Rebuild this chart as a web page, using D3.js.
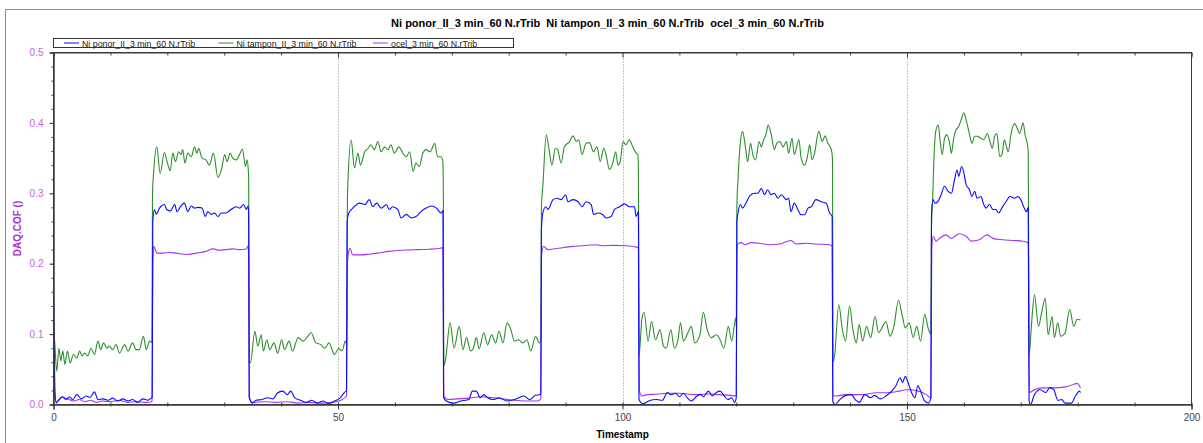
<!DOCTYPE html>
<html>
<head>
<meta charset="utf-8">
<script src="https://cdn.jsdelivr.net/npm/d3@7"></script>
<style>
  body { margin: 0; background: #fff; }
  svg { display: block; font-family: "Liberation Sans", Arial, sans-serif; }
</style>
</head>
<body>
<svg id="cofChart" width="1203" height="443"></svg>
<script>
// ---- Data
const titleText = "Ni ponor_II_3 min_60 N.rTrib  Ni tampon_II_3 min_60 N.rTrib  ocel_3 min_60 N.rTrib";
const seriesNames = ["Ni ponor_II_3 min_60 N.rTrib", "Ni tampon_II_3 min_60 N.rTrib", "ocel_3 min_60 N.rTrib"];
const xLabel = "Timestamp";
const yLabel = "DAQ.COF ()";
const xTicks = [0, 50, 100, 150, 200];
const yTicks = [0, 0.1, 0.2, 0.3, 0.4, 0.5];
const gridLines = [50, 100, 150];

// [timestamp, COF]
const ponor = [
  [0,0.166],[0.23,0.028],[0.47,0.002],[1.05,0.008],[1.6,0.011],[2.2,0.007],[2.8,0.011],[3.4,0.007],[4.1,0.014],[4.9,0.008],[5.7,0.012],[6.4,0.01],[7.2,0.018],[7.8,0.007],[8.7,0.008],[9.6,0.006],[10.4,0.009],[11.3,0.005],[12.2,0.008],[13.1,0.005],[13.9,0.007],[14.8,0.003],[15.7,0.008],[16.6,0.006],[17.1,0.009],[17.35,0.01],
  [17.45,0.26],[17.75,0.277],[18.04,0.27],[18.63,0.279],[19.5,0.284],[19.9,0.277],[20.56,0.275],[21.3,0.284],[21.7,0.274],[22.4,0.282],[23.0,0.286],[23.6,0.274],[24.2,0.282],[24.8,0.279],[25.4,0.28],[26.1,0.279],[26.7,0.267],[27.1,0.274],[27.7,0.27],[28.3,0.272],[28.9,0.267],[29.5,0.272],[30.3,0.272],[31.2,0.277],[32.1,0.281],[32.7,0.279],[33.4,0.284],[33.9,0.277],[34.2,0.282],[34.3,0.27],
  [34.4,0.01],[34.95,0.002],[35.6,0.006],[36.6,0.007],[37.6,0.0095],[38.6,0.008],[39.3,0.016],[40.3,0.019],[41.1,0.014],[41.7,0.019],[42.4,0.0095],[43.4,0.006],[44.4,0.003],[45.4,0.006],[46.4,0.002],[47.4,0.005],[48.4,0.001],[49.4,0.005],[50.4,0.0095],[51.1,0.017],[51.5,0.02],
  [51.6,0.26],[51.9,0.272],[52.6,0.279],[53.8,0.286],[54.7,0.284],[55.5,0.291],[56.1,0.281],[56.8,0.286],[57.6,0.279],[58.5,0.284],[59.0,0.277],[59.6,0.281],[60.5,0.277],[61.1,0.265],[62.0,0.27],[62.9,0.265],[63.7,0.267],[64.6,0.274],[65.5,0.279],[66.4,0.282],[67.3,0.279],[68.1,0.272],[68.45,0.275],
  [68.55,0.01],[69.05,0.005],[70.3,0.002],[71.6,0.005],[73.0,0.007],[73.6,0.019],[74.3,0.019],[75.0,0.0095],[75.6,0.014],[76.3,0.0095],[77.3,0.007],[78.3,0.0095],[79.7,0.005],[81.0,0.007],[82.7,0.012],[83.7,0.007],[84.7,0.013],[85.4,0.014],[85.65,0.015],
  [85.75,0.25],[86.0,0.272],[86.5,0.281],[86.9,0.277],[87.8,0.291],[88.5,0.293],[89.2,0.291],[90.0,0.298],[90.4,0.288],[91.3,0.291],[92.2,0.288],[92.9,0.281],[93.6,0.288],[94.5,0.284],[94.9,0.27],[95.7,0.272],[96.5,0.27],[97.1,0.265],[98.0,0.267],[98.6,0.277],[99.5,0.281],[100.35,0.285],[101.2,0.281],[102.1,0.281],[102.4,0.267],[102.8,0.274],
  [102.9,0.007],[103.6,0.001],[104.6,0.005],[106.0,0.007],[107.0,0.006],[107.9,0.017],[108.5,0.014],[109.35,0.016],[110.0,0.011],[110.7,0.016],[111.4,0.0095],[112.1,0.005],[113.1,0.012],[113.8,0.014],[114.2,0.011],[115.1,0.019],[115.8,0.012],[116.5,0.017],[117.15,0.019],[117.8,0.013],[118.5,0.007],[119.2,0.0095],[119.7,0.003],[120.0,0.01],
  [120.1,0.26],[120.3,0.272],[120.7,0.284],[121.1,0.279],[121.7,0.286],[122.3,0.2955],[123.2,0.3],[123.8,0.3],[124.4,0.307],[124.95,0.298],[125.5,0.305],[126.1,0.298],[126.7,0.3],[127.3,0.293],[127.9,0.298],[128.8,0.291],[129.2,0.293],[129.6,0.274],[130.2,0.286],[130.8,0.277],[131.4,0.2695],[132.0,0.2695],[132.6,0.279],[133.2,0.281],[134.0,0.291],[134.9,0.288],[135.8,0.286],[136.4,0.272],[136.85,0.267],
  [136.95,0.005],[137.3,0.0],[138.2,0.007],[139.2,0.013],[140.2,0.014],[140.9,0.007],[141.6,0.003],[142.6,0.014],[143.6,0.0095],[144.3,0.013],[145.3,0.008],[146.3,0.012],[147.3,0.019],[148.0,0.026],[148.8,0.038],[149.2,0.031],[149.7,0.04],[150.0,0.0355],[150.7,0.019],[151.4,0.0095],[151.9,0.027],[152.4,0.019],[153.1,0.005],[153.8,0.002],[154.2,0.01],
  [154.3,0.27],[154.6,0.291],[154.9,0.286],[155.4,0.288],[156.0,0.298],[156.6,0.31],[157.2,0.303],[157.8,0.3],[158.3,0.317],[158.8,0.333],[159.1,0.324],[159.6,0.338],[160.0,0.329],[160.4,0.312],[161.0,0.305],[161.4,0.2955],[161.9,0.303],[162.3,0.293],[163.0,0.2955],[163.4,0.286],[163.9,0.279],[164.5,0.284],[165.1,0.277],[165.6,0.277],[166.1,0.272],[166.8,0.281],[167.4,0.288],[168.1,0.2955],[168.9,0.293],[169.5,0.2955],[170.0,0.291],[170.6,0.279],[171.0,0.274],[171.3,0.28],
  [171.45,0.005],[171.7,0.0],[172.4,0.014],[173.4,0.021],[174.4,0.017],[175.1,0.024],[175.8,0.021],[176.5,0.006],[177.2,0.007],[177.8,0.002],[178.9,0.002],[179.6,0.012],[180.3,0.019],[180.5,0.017]
];

const tampon = [
  [0,0.09],[0.06,0.102],[0.58,0.047],[0.94,0.08],[1.29,0.062],[1.64,0.076],[2.0,0.057],[2.46,0.076],[2.93,0.059],[3.5,0.071],[4.1,0.066],[4.6,0.076],[5.0,0.069],[5.5,0.073],[6.0,0.069],[6.6,0.08],[7.2,0.071],[7.8,0.09],[8.3,0.078],[8.8,0.0875],[9.4,0.08],[9.8,0.083],[10.4,0.078],[11.0,0.085],[11.6,0.073],[12.5,0.085],[13.1,0.076],[13.9,0.0875],[14.5,0.078],[15.1,0.078],[15.8,0.097],[16.3,0.078],[16.9,0.09],[17.3,0.088],
  [17.4,0.3],[17.6,0.33],[18.16,0.366],[18.75,0.328],[19.5,0.358],[19.97,0.345],[20.5,0.332],[20.97,0.357],[21.44,0.345],[22.0,0.359],[22.4,0.355],[22.7,0.362],[23.1,0.343],[23.6,0.357],[24.2,0.352],[24.8,0.366],[25.2,0.357],[25.5,0.364],[26.1,0.35],[26.8,0.3475],[27.4,0.34],[28.1,0.357],[28.9,0.323],[29.5,0.333],[30.1,0.355],[30.5,0.345],[31.05,0.357],[31.5,0.35],[32.1,0.3475],[32.7,0.355],[33.2,0.363],[33.75,0.338],[34.0,0.3475],[34.3,0.324],
  [34.4,0.06],[34.6,0.059],[35.4,0.104],[35.9,0.083],[36.5,0.099],[36.9,0.076],[37.5,0.092],[38.0,0.078],[38.75,0.0875],[39.4,0.073],[40.1,0.092],[40.6,0.078],[41.4,0.09],[42.0,0.076],[43.0,0.095],[43.9,0.09],[44.7,0.097],[45.3,0.102],[46.1,0.0875],[47.0,0.085],[47.7,0.08],[48.4,0.0875],[49.4,0.071],[50.1,0.08],[50.7,0.076],[51.3,0.09],[51.55,0.085],
  [51.65,0.29],[51.73,0.312],[52.3,0.376],[52.9,0.336],[53.5,0.357],[53.95,0.34],[54.7,0.359],[55.3,0.364],[55.8,0.369],[56.4,0.362],[57.0,0.3735],[57.6,0.359],[58.2,0.366],[58.8,0.362],[59.3,0.369],[59.9,0.357],[60.7,0.366],[61.4,0.357],[62.0,0.352],[62.6,0.359],[63.2,0.331],[63.7,0.343],[64.3,0.338],[64.9,0.357],[65.5,0.362],[66.2,0.359],[67.0,0.371],[67.5,0.352],[68.1,0.352],[68.4,0.3475],[68.5,0.32],
  [68.6,0.055],[68.9,0.064],[69.7,0.116],[70.4,0.08],[71.3,0.111],[71.95,0.078],[72.6,0.095],[73.3,0.076],[73.8,0.08],[74.3,0.095],[74.8,0.079],[75.6,0.102],[76.3,0.085],[77.0,0.099],[77.7,0.0875],[78.3,0.104],[79.0,0.0875],[79.7,0.116],[80.4,0.106],[81.0,0.09],[81.7,0.092],[82.5,0.0875],[83.2,0.092],[83.9,0.076],[84.7,0.097],[85.4,0.0875],[85.65,0.09],
  [85.75,0.28],[86.0,0.31],[86.6,0.383],[87.1,0.362],[87.6,0.34],[88.2,0.364],[88.6,0.362],[89.2,0.343],[89.8,0.366],[90.7,0.3735],[91.3,0.3815],[91.9,0.3735],[92.3,0.376],[92.9,0.355],[93.6,0.371],[94.2,0.372],[94.9,0.359],[95.5,0.366],[96.1,0.345],[96.7,0.364],[97.1,0.355],[97.7,0.334],[98.3,0.343],[98.8,0.359],[99.2,0.34],[99.6,0.345],[100.1,0.3735],[100.6,0.369],[101.2,0.376],[101.8,0.366],[102.4,0.357],[102.7,0.355],[102.8,0.33],
  [102.9,0.069],[103.4,0.121],[103.8,0.131],[104.5,0.09],[105.1,0.118],[105.8,0.092],[106.6,0.106],[107.2,0.083],[107.7,0.08],[108.5,0.106],[109.1,0.08],[109.7,0.09],[110.2,0.116],[110.7,0.09],[111.5,0.102],[112.1,0.111],[112.7,0.0875],[113.6,0.099],[114.2,0.131],[114.9,0.106],[115.6,0.095],[116.5,0.099],[117.15,0.092],[117.8,0.08],[118.6,0.111],[119.2,0.09],[119.9,0.123],[120.0,0.11],
  [120.1,0.28],[120.3,0.319],[120.7,0.371],[121.1,0.388],[121.6,0.366],[122.0,0.345],[122.5,0.371],[122.9,0.355],[123.4,0.3475],[124.0,0.3735],[124.4,0.366],[124.8,0.376],[125.2,0.383],[125.6,0.397],[126.1,0.385],[126.7,0.362],[127.1,0.371],[127.7,0.3735],[128.2,0.366],[128.8,0.3735],[129.2,0.357],[129.8,0.378],[130.2,0.355],[131.0,0.376],[131.4,0.35],[132.0,0.34],[132.5,0.352],[132.9,0.369],[133.3,0.3475],[133.7,0.355],[134.5,0.388],[135.1,0.3735],[135.6,0.3815],[136.1,0.371],[136.7,0.362],[136.9,0.35],
  [137.0,0.06],[137.3,0.071],[138.0,0.142],[138.65,0.106],[139.2,0.09],[139.9,0.14],[140.5,0.106],[141.1,0.0875],[141.6,0.1135],[142.2,0.09],[142.9,0.111],[143.6,0.095],[144.4,0.125],[145.0,0.102],[145.6,0.109],[146.3,0.118],[147.0,0.097],[147.7,0.111],[148.5,0.148],[149.2,0.125],[149.7,0.109],[150.4,0.116],[151.1,0.095],[151.7,0.111],[152.4,0.09],[153.1,0.128],[153.8,0.106],[154.2,0.1],
  [154.3,0.25],[154.5,0.291],[154.8,0.362],[155.1,0.39],[155.5,0.397],[155.8,0.376],[156.2,0.355],[156.6,0.378],[157.0,0.383],[157.5,0.371],[157.8,0.357],[158.2,0.378],[158.6,0.39],[159.1,0.395],[159.5,0.404],[160.0,0.414],[160.4,0.404],[161.0,0.383],[161.4,0.371],[161.9,0.381],[162.4,0.381],[163.0,0.378],[163.5,0.376],[164.1,0.385],[164.5,0.376],[165.0,0.364],[165.4,0.381],[165.8,0.385],[166.3,0.352],[166.7,0.355],[167.1,0.376],[167.4,0.369],[167.8,0.359],[168.3,0.385],[168.9,0.399],[169.5,0.39],[169.8,0.385],[170.4,0.4],[170.8,0.381],[171.0,0.376],[171.3,0.36],
  [171.45,0.069],[171.9,0.116],[172.4,0.156],[173.1,0.111],[173.6,0.128],[174.3,0.151],[174.8,0.099],[175.5,0.125],[175.9,0.095],[176.5,0.116],[177.0,0.097],[177.8,0.102],[178.6,0.135],[179.3,0.111],[179.9,0.121],[180.5,0.12]
];

const ocel = [
  [0,0.12],[0.2,0.01],[0.6,0.004],[1.5,0.01],[2.5,0.008],[3.5,0.005],[4.5,0.007],[5.5,0.004],[6.5,0.006],[7.5,0.003],[8.5,0.005],[10,0.004],[11.5,0.006],[13,0.003],[14.5,0.004],[16,0.003],[17.3,0.004],
  [17.45,0.2],[17.6,0.2246],[18.2,0.215],[19.2,0.215],[20.4,0.216],[21.6,0.215],[23.3,0.213],[25.1,0.215],[26.8,0.2175],[28.0,0.221],[29.2,0.219],[30.3,0.22],[31.5,0.221],[32.7,0.22],[33.9,0.221],[34.2,0.2255],[34.3,0.21],
  [34.4,0.01],[35,0.003],[37,0.004],[39,0.003],[41,0.004],[43,0.002],[45,0.003],[47,0.002],[49,0.003],[50.5,0.006],[51.5,0.012],
  [51.65,0.2],[51.9,0.2175],[52.1,0.222],[52.6,0.2125],[54,0.2125],[55.5,0.2135],[57,0.215],[59,0.2175],[61,0.219],[62,0.2195],[64,0.22],[66,0.2205],[68,0.222],[68.45,0.223],
  [68.6,0.012],[69.3,0.007],[71,0.008],[73,0.009],[75,0.011],[77,0.01],[79,0.008],[81,0.006],[83,0.005],[85,0.005],[85.65,0.008],
  [85.75,0.21],[86.1,0.2246],[86.9,0.22],[87.8,0.2208],[89.0,0.2222],[91.3,0.2246],[93.0,0.2255],[95.4,0.227],[96.5,0.2255],[98.3,0.226],[100.6,0.2255],[102.4,0.2236],[102.8,0.222],
  [102.95,0.02],[103.4,0.012],[104.3,0.014],[106.0,0.0146],[108,0.016],[110,0.016],[112.7,0.014],[115,0.015],[117,0.014],[119,0.013],[120.0,0.012],
  [120.1,0.215],[120.3,0.229],[120.9,0.23],[121.5,0.227],[122.6,0.23],[124.1,0.229],[125.9,0.227],[127.6,0.228],[129.6,0.233],[130.5,0.228],[132.3,0.229],[134.0,0.228],[136.4,0.227],[136.85,0.2246],
  [137.0,0.012],[137.5,0.012],[139.2,0.014],[141.9,0.014],[144.6,0.0166],[146.6,0.0166],[148.6,0.019],[150.0,0.021],[152.0,0.019],[153.4,0.014],[154.2,0.0095],
  [154.35,0.22],[154.6,0.239],[155.1,0.232],[155.7,0.236],[156.8,0.241],[157.8,0.236],[159.2,0.2426],[160.4,0.239],[161.3,0.232],[162.7,0.234],[164.1,0.241],[165.1,0.236],[166.8,0.234],[168.6,0.233],[170.4,0.232],[171.2,0.23],[171.35,0.225],
  [171.5,0.017],[172.4,0.021],[173.8,0.0236],[175.8,0.0236],[177.8,0.025],[179.2,0.0284],[179.9,0.03],[180.5,0.0236]
];

const seriesData = [ponor, tampon, ocel];
const seriesColors = ["#0a0aff", "#2a8f2a", "#a435ec"];
const drawOrder = [1, 2, 0]; // blue ends up on top, as in the reference

// ---- Layout
const svg = d3.select("#cofChart");
const width = 1203, height = 443;
const plot = { left: 53.5, right: 1191.5, top: 52.5, bottom: 404.5 };

const mapX = d3.scaleLinear().domain([0, 200]).range([plot.left, plot.right]);
const mapY = d3.scaleLinear().domain([0, 0.5]).range([plot.bottom, plot.top]);

svg.append("rect").attr("width", width).attr("height", height).attr("fill", "#fff");

// outer panel frame
svg.append("path")
  .attr("d", `M5.5,${height} V9.5 H${width}`)
  .attr("fill", "none")
  .attr("stroke", "#8c8c8c");

// title
svg.append("text")
  .attr("x", 607.5)
  .attr("y", 27)
  .attr("text-anchor", "middle")
  .style("font-size", "11px")
  .style("font-weight", "bold")
  .style("white-space", "pre")
  .attr("fill", "#000")
  .text(titleText);

// dotted grid lines
svg.append("g")
  .selectAll("line")
  .data(gridLines)
  .enter()
  .append("line")
  .attr("x1", d => Math.round(mapX(d)) + 0.5)
  .attr("x2", d => Math.round(mapX(d)) + 0.5)
  .attr("y1", plot.top)
  .attr("y2", plot.bottom)
  .attr("stroke", "#8a8a8a")
  .attr("stroke-dasharray", "1,2");

// ---- Series (smoothed like the instrument software draws them)
const line = d3.line()
  .curve(d3.curveMonotoneX)
  .x(d => mapX(d[0]))
  .y(d => mapY(d[1]));

const lines = svg.append("g");
drawOrder.forEach(i => {
  lines.append("path")
    .datum(seriesData[i])
    .attr("fill", "none")
    .attr("stroke", seriesColors[i])
    .attr("stroke-width", 1.1)
    .attr("stroke-linejoin", "round")
    .attr("d", line);
});

// ---- Axes
const axisColor = "#3a3a3a";

// bottom minor ticks (cross the axis)
const xMinor = svg.append("g")
  .attr("transform", `translate(0, ${plot.bottom})`)
  .call(d3.axisBottom(mapX).tickValues(d3.range(0, 201, 10)).tickSize(2).tickFormat(""));
xMinor.selectAll(".tick line").attr("y1", -2);

// bottom major ticks + labels
const xAxis = svg.append("g")
  .attr("transform", `translate(0, ${plot.bottom})`)
  .call(d3.axisBottom(mapX).tickValues(xTicks).tickSize(5).tickPadding(4).tickFormat(d3.format("d")));
xAxis.selectAll("text").attr("fill", "#444").style("font-size", "10px").style("font-family", "Liberation Sans, Arial, sans-serif");

// top ticks pointing inward
const xTop = svg.append("g")
  .attr("transform", `translate(0, ${plot.top})`)
  .call(d3.axisTop(mapX).tickValues(d3.range(0, 201, 10)).tickSize(-3).tickFormat(""));
xTop.selectAll(".tick line").attr("y2", d => (d % 50 === 0 ? 5 : 3));

// left minor ticks
svg.append("g")
  .attr("transform", `translate(${plot.left}, 0)`)
  .call(d3.axisLeft(mapY).tickValues(d3.range(0, 0.5001, 0.02)).tickSize(2).tickFormat(""));

// left major ticks + labels
const yAxis = svg.append("g")
  .attr("transform", `translate(${plot.left}, 0)`)
  .call(d3.axisLeft(mapY).tickValues(yTicks).tickSize(4).tickPadding(6).tickFormat(d3.format(".1f")));
yAxis.selectAll("text").attr("fill", "#c164e6").style("font-size", "10px").style("font-family", "Liberation Sans, Arial, sans-serif");

svg.selectAll(".domain").attr("stroke", axisColor);
svg.selectAll(".tick line").attr("stroke", axisColor);

// plot frame
svg.append("rect")
  .attr("x", plot.left)
  .attr("y", plot.top)
  .attr("width", plot.right - plot.left)
  .attr("height", plot.bottom - plot.top)
  .attr("fill", "none")
  .attr("stroke", axisColor);

// axis titles
svg.append("text")
  .attr("x", (plot.left + plot.right) / 2)
  .attr("y", 437.5)
  .attr("text-anchor", "middle")
  .style("font-size", "10px")
  .style("font-weight", "bold")
  .attr("fill", "#000")
  .text(xLabel);

svg.append("text")
  .attr("transform", `translate(20.5, ${(plot.top + plot.bottom) / 2}) rotate(-90)`)
  .attr("text-anchor", "middle")
  .style("font-size", "10px")
  .style("font-weight", "bold")
  .attr("fill", "#a52fd6")
  .text(yLabel);

// ---- Legend
const legend = svg.append("g");
legend.append("rect")
  .attr("x", 53.5)
  .attr("y", 38.5)
  .attr("width", 460)
  .attr("height", 9)
  .attr("fill", "#fff")
  .attr("stroke", "#333");

const legendStep = 154.5;
seriesNames.forEach((name, i) => {
  const tx = 82 + i * legendStep;
  legend.append("line")
    .attr("x1", tx - 18)
    .attr("x2", tx - 3)
    .attr("y1", 43)
    .attr("y2", 43)
    .attr("stroke", seriesColors[i])
    .attr("stroke-width", 1);
  legend.append("text")
    .attr("x", tx)
    .attr("y", 46.5)
    .style("font-size", "8.8px")
    .attr("fill", "#222")
    .text(name);
});
</script>
</body>
</html>
